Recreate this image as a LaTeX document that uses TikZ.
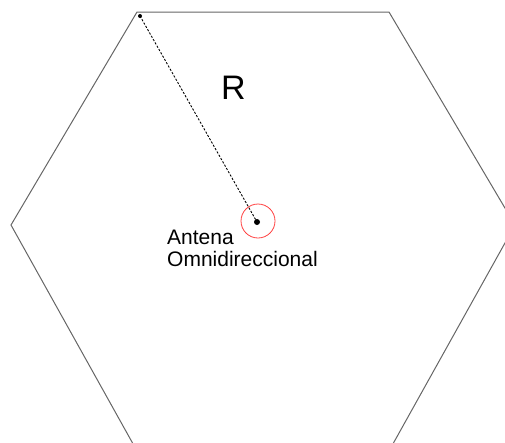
\documentclass[tikz,border=0pt]{standalone}
\usepackage{fontspec}
\setmainfont{Liberation Sans}
\begin{document}
\begin{tikzpicture}[x=1pt,y=-1pt,
  hexline/.style={draw=black!60,line width=1pt},
  radline/.style={draw=black,line width=0.9pt,dash pattern=on 2.2pt off 1.6pt},
  antring/.style={circle,draw=red!75,line width=0.8pt,minimum size=34pt,inner sep=0pt},
  lbl/.style={font=\fontsize{21}{21.5}\selectfont,align=left,inner sep=0pt}]
\useasboundingbox (0,0) rectangle (505,442);
\clip (0,0) rectangle (505,442);
\draw[hexline] (137,12) -- (389,12) -- (515,225) -- (389,451) -- (137,451) -- (11,225) -- cycle;
\coordinate (top) at (140,16);
\node[antring] (ring) at (258,221) {};
\coordinate (ant) at (257,222);
\draw[radline] (top) -- (ant);
\fill (top) circle (2pt);
\fill (ant) circle (3pt);
\node[font=\fontsize{34}{34}\selectfont,inner sep=0pt,anchor=base west] (R) at (221,99) {R};
\node[lbl,anchor=base west] (lab) at (167,266) {Antena\\Omnidireccional};
\end{tikzpicture}
\end{document}
